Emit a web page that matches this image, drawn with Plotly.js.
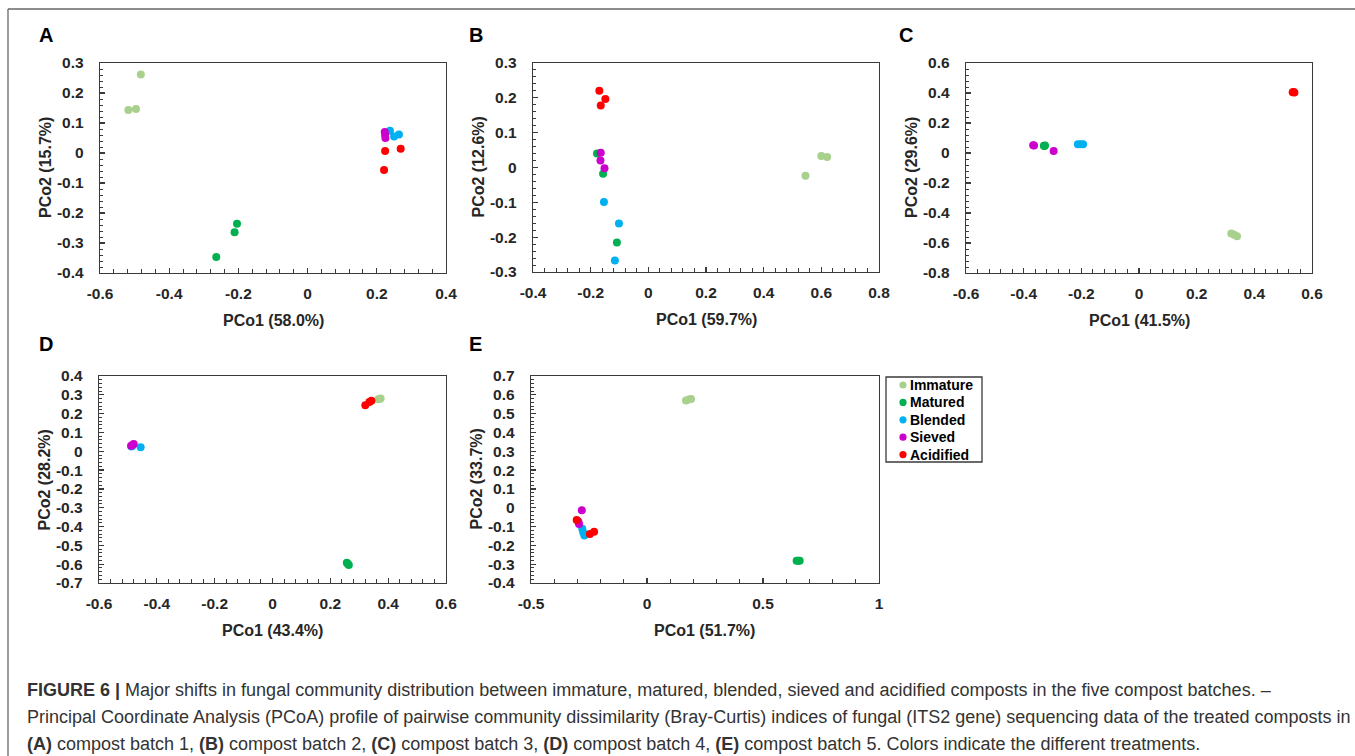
<!DOCTYPE html>
<html>
<head>
<meta charset="utf-8">
<script src="https://cdn.plot.ly/plotly-3.0.1.min.js"></script>
<style>html,body{margin:0;padding:0;background:#fff;}#chart{width:1355px;height:756px;}</style>
</head>
<body>
<div id="chart"></div>
<script>
// ---------- DATA ----------
const treatments = ['Immature', 'Matured', 'Blended', 'Sieved', 'Acidified'];

// Panel A (compost batch 1) — groups in treatment order
const A_pco1 = [[-0.482, -0.518, -0.496], [-0.204, -0.211, -0.264], [0.238, 0.250, 0.264], [0.223, 0.224, 0.225], [0.224, 0.269, 0.221]];
const A_pco2 = [[0.262, 0.143, 0.147], [-0.236, -0.264, -0.347], [0.074, 0.055, 0.062], [0.070, 0.060, 0.050], [0.007, 0.014, -0.057]];
// Panel B (compost batch 2)
const B_pco1 = [[0.600, 0.620, 0.545], [-0.178, -0.157, -0.109], [-0.154, -0.102, -0.116], [-0.165, -0.166, -0.152], [-0.170, -0.149, -0.165]];
const B_pco2 = [[0.033, 0.030, -0.024], [0.040, -0.018, -0.215], [-0.099, -0.161, -0.267], [0.042, 0.020, -0.002], [0.220, 0.197, 0.178]];
// Panel C (compost batch 3)
const C_pco1 = [[0.320, 0.330, 0.340], [-0.330, -0.328, -0.326], [-0.212, -0.203, -0.194], [-0.367, -0.364, -0.296], [0.533, 0.536, 0.539]];
const C_pco2 = [[-0.537, -0.545, -0.555], [0.048, 0.046, 0.050], [0.059, 0.059, 0.059], [0.052, 0.050, 0.014], [0.405, 0.407, 0.404]];
// Panel D (compost batch 4)
const D_pco1 = [[0.366, 0.370, 0.374], [0.257, 0.260, 0.264], [-0.488, -0.485, -0.456], [-0.489, -0.483, -0.480], [0.321, 0.335, 0.342]];
const D_pco2 = [[0.276, 0.278, 0.280], [-0.592, -0.598, -0.605], [0.025, 0.028, 0.021], [0.030, 0.035, 0.038], [0.245, 0.262, 0.268]];
// Panel E (compost batch 5)
const E_pco1 = [[0.168, 0.180, 0.190], [0.645, 0.652, 0.658], [-0.279, -0.270, -0.275], [-0.281, -0.293, -0.296], [-0.303, -0.246, -0.228]];
const E_pco2 = [[0.570, 0.575, 0.578], [-0.282, -0.282, -0.282], [-0.112, -0.148, -0.130], [-0.013, -0.087, -0.073], [-0.065, -0.140, -0.127]];

// Axis titles
const panelLetters = ['A', 'B', 'C', 'D', 'E'];
const xTitles = ['PCo1 (58.0%)', 'PCo1 (59.7%)', 'PCo1 (41.5%)', 'PCo1 (43.4%)', 'PCo1 (51.7%)'];
const yTitles = ['PCo2 (15.7%)', 'PCo2 (12.6%)', 'PCo2 (29.6%)', 'PCo2 (28.2%)', 'PCo2 (33.7%)'];

// Tick values (labels are these values as written)
const A_xticks = [-0.6, -0.4, -0.2, 0, 0.2, 0.4];
const A_yticks = [-0.4, -0.3, -0.2, -0.1, 0, 0.1, 0.2, 0.3];
const B_xticks = [-0.4, -0.2, 0, 0.2, 0.4, 0.6, 0.8];
const B_yticks = [-0.3, -0.2, -0.1, 0, 0.1, 0.2, 0.3];
const C_xticks = [-0.6, -0.4, -0.2, 0, 0.2, 0.4, 0.6];
const C_yticks = [-0.8, -0.6, -0.4, -0.2, 0, 0.2, 0.4, 0.6];
const D_xticks = [-0.6, -0.4, -0.2, 0, 0.2, 0.4, 0.6];
const D_yticks = [-0.7, -0.6, -0.5, -0.4, -0.3, -0.2, -0.1, 0, 0.1, 0.2, 0.3, 0.4];
const E_xticks = [-0.5, 0, 0.5, 1];
const E_yticks = [-0.4, -0.3, -0.2, -0.1, 0, 0.1, 0.2, 0.3, 0.4, 0.5, 0.6, 0.7];

const captionLines = [
  '<b>FIGURE 6 |</b> Major shifts in fungal community distribution between immature, matured, blended, sieved and acidified composts in the five compost batches. –',
  'Principal Coordinate Analysis (PCoA) profile of pairwise community dissimilarity (Bray-Curtis) indices of fungal (ITS2 gene) sequencing data of the treated composts in',
  '<b>(A)</b> compost batch 1, <b>(B)</b> compost batch 2, <b>(C)</b> compost batch 3, <b>(D)</b> compost batch 4, <b>(E)</b> compost batch 5. Colors indicate the different treatments.'
];

// ---------- STYLE / LAYOUT ----------
const colors = ['#A9D18E', '#00B050', '#00B0F0', '#CC00CC', '#FF0000'];
const W = 1355, H = 756;
const px = v => v / W;
const py = v => 1 - v / H;

// plot boxes in pixels: [left, right, top, bottom]
const boxes = [
  [100, 446, 63, 273],
  [533, 879, 63, 272],
  [966, 1312, 63, 273],
  [99, 446, 376, 583],
  [531, 879, 376, 583]
];
const panels = [
  {x: A_pco1, y: A_pco2, xt: A_xticks, yt: A_yticks, xmin: 0.04, ymin: 0.02},
  {x: B_pco1, y: B_pco2, xt: B_xticks, yt: B_yticks, xmin: 0.04, ymin: 0.02},
  {x: C_pco1, y: C_pco2, xt: C_xticks, yt: C_yticks, xmin: 0.04, ymin: 0.04},
  {x: D_pco1, y: D_pco2, xt: D_xticks, yt: D_yticks, xmin: 0.04, ymin: 0.02},
  {x: E_pco1, y: E_pco2, xt: E_xticks, yt: E_yticks, xmin: 0.1, ymin: 0.02}
];

const tickFont = {family: 'Liberation Sans, Arial, sans-serif', size: 15.5, color: '#262626', weight: 'bold'};
const titleFont = {family: 'Liberation Sans, Arial, sans-serif', size: 16, color: '#262626', weight: 'bold'};
const lineCol = '#3a3a3a';

const traces = [];
const layout = {
  width: W, height: H,
  margin: {l: 0, r: 0, t: 0, b: 0},
  paper_bgcolor: '#fff', plot_bgcolor: '#fff',
  showlegend: false,
  annotations: [],
  shapes: []
};

panels.forEach((p, i) => {
  const n = i === 0 ? '' : String(i + 1);
  const b = boxes[i];
  treatments.forEach((t, k) => {
    traces.push({
      type: 'scatter', mode: 'markers', name: t,
      x: p.x[k], y: p.y[k],
      xaxis: 'x' + n, yaxis: 'y' + n,
      marker: {color: colors[k], size: 8, line: {width: 0}},
      hoverinfo: 'x+y+name', cliponaxis: false
    });
  });
  const common = {
    showline: true, linecolor: lineCol, linewidth: 1.3, mirror: true,
    ticks: 'inside', ticklen: 5, tickwidth: 1.3, tickcolor: lineCol,
    showgrid: false, zeroline: false, tickmode: 'array', tickfont: tickFont,
    fixedrange: true
  };
  layout['xaxis' + n] = Object.assign({}, common, {
    domain: [px(b[0]), px(b[1])],
    anchor: 'y' + n,
    range: [p.xt[0], p.xt[p.xt.length - 1]],
    tickvals: p.xt, ticktext: p.xt.map(String),
    ticklabelstandoff: 6,
    minor: {tickmode: 'linear', dtick: p.xmin, tick0: p.xt[0], ticks: 'inside', ticklen: 4, tickwidth: 1, tickcolor: lineCol, showgrid: false}
  });
  layout['yaxis' + n] = Object.assign({}, common, {
    domain: [py(b[3]), py(b[2])],
    anchor: 'x' + n,
    range: [p.yt[0], p.yt[p.yt.length - 1]],
    tickvals: p.yt, ticktext: p.yt.map(String),
    ticklabelstandoff: 12,
    minor: {tickmode: 'linear', dtick: p.ymin, tick0: p.yt[0], ticks: 'inside', ticklen: 3, tickwidth: 1, tickcolor: lineCol, showgrid: false}
  });
  // panel letter
  const letterX = i === 0 || i === 3 ? 37 : (i === 1 || i === 4 ? 467 : 897);
  const letterY = i < 3 ? 35 : 344;
  layout.annotations.push({
    text: '<b>' + panelLetters[i] + '</b>', xref: 'paper', yref: 'paper',
    x: px(letterX), y: py(letterY), xanchor: 'left', yanchor: 'middle', showarrow: false,
    font: {family: 'Liberation Sans, Arial, sans-serif', size: 20, color: '#000'}
  });
  // x title
  layout.annotations.push({
    text: xTitles[i], xref: 'paper', yref: 'paper',
    x: px((b[0] + b[1]) / 2), y: py(b[3] + 47), xanchor: 'center', yanchor: 'middle', showarrow: false,
    font: titleFont
  });
  // y title
  layout.annotations.push({
    text: yTitles[i], xref: 'paper', yref: 'paper', textangle: -90,
    x: px(b[0] - 55), y: py((b[2] + b[3]) / 2), xanchor: 'center', yanchor: 'middle', showarrow: false,
    font: titleFont
  });
});

// legend (box, markers, labels)
const legBox = [886, 982, 377, 462];
layout.shapes.push({type: 'rect', xref: 'paper', yref: 'paper',
  x0: px(legBox[0]), x1: px(legBox[1]), y0: py(legBox[3]), y1: py(legBox[2]),
  line: {color: lineCol, width: 1.3}, fillcolor: 'rgba(0,0,0,0)'});
treatments.forEach((t, k) => {
  const ry = 385 + k * 17.4;
  layout.shapes.push({type: 'circle', xref: 'paper', yref: 'paper',
    xsizemode: 'pixel', ysizemode: 'pixel', xanchor: px(903), yanchor: py(ry),
    x0: -3.6, x1: 3.6, y0: -3.6, y1: 3.6, fillcolor: colors[k], line: {width: 0}});
  layout.annotations.push({
    text: '<b>' + t + '</b>', xref: 'paper', yref: 'paper',
    x: px(908), y: py(ry), xanchor: 'left', yanchor: 'middle', showarrow: false,
    font: {family: 'Liberation Sans, Arial, sans-serif', size: 14, color: '#000'}
  });
});

// figure frame
layout.shapes.push({type: 'line', xref: 'paper', yref: 'paper', x0: px(8), x1: 1, y0: py(9), y1: py(9), line: {color: '#666', width: 1.3}});
layout.shapes.push({type: 'line', xref: 'paper', yref: 'paper', x0: px(8), x1: px(8), y0: py(9), y1: 0, line: {color: '#666', width: 1.3}});

// caption
const capY = [690, 717, 744];
captionLines.forEach((c, j) => {
  layout.annotations.push({
    text: c, xref: 'paper', yref: 'paper', x: px(25), y: py(capY[j]),
    xanchor: 'left', yanchor: 'middle', showarrow: false,
    font: {family: 'Liberation Sans, Arial, sans-serif', size: 18, color: '#333'}
  });
});

Plotly.newPlot('chart', traces, layout, {displayModeBar: false, staticPlot: true});
</script>
</body>
</html>
